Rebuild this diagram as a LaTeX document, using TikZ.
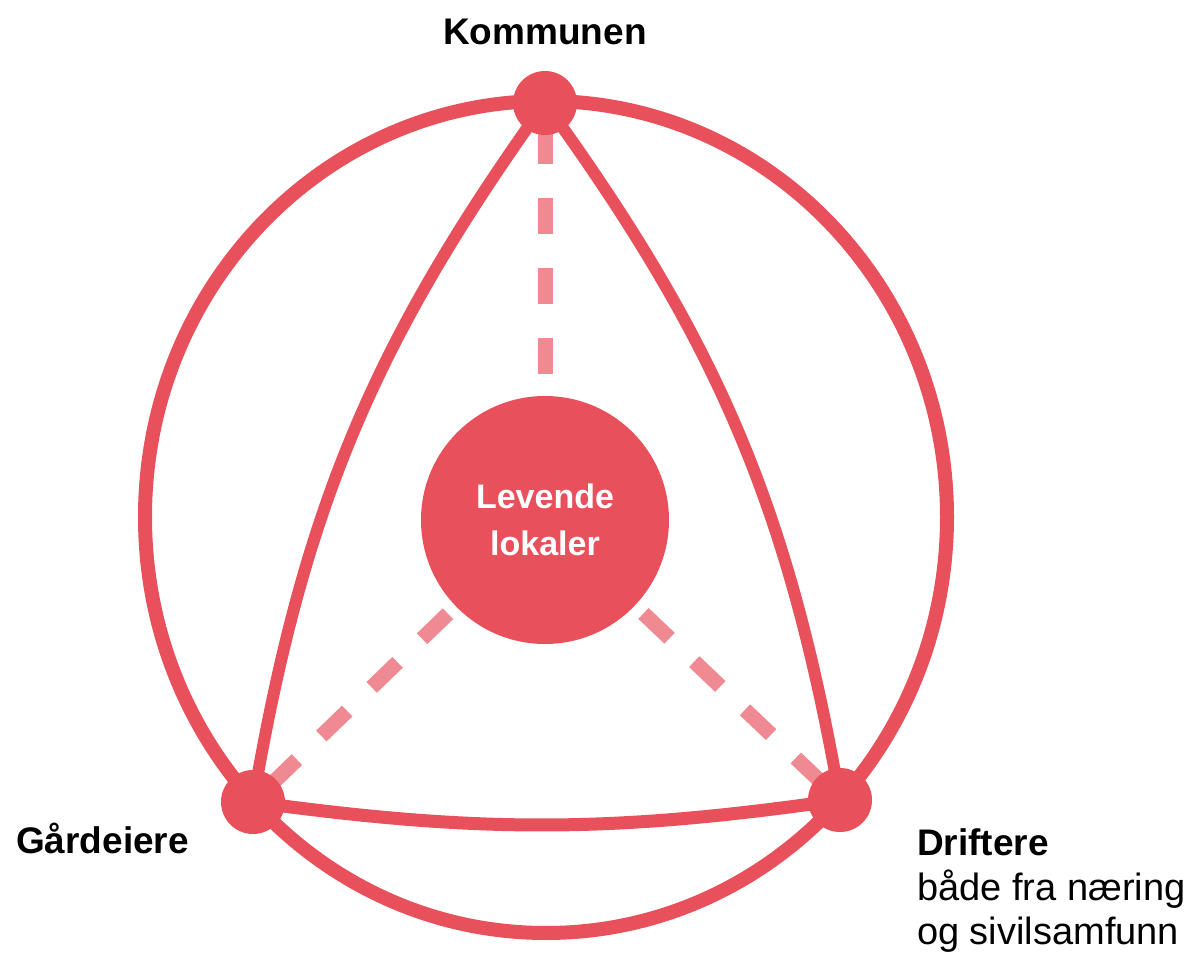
\documentclass[tikz,border=0pt]{standalone}
\usepackage{fontspec}
\setmainfont{Liberation Sans}
\usetikzlibrary{backgrounds}
\definecolor{mainred}{RGB}{232,80,92}
\definecolor{dashred}{RGB}{239,138,147}
\begin{document}
\begin{tikzpicture}[x=1pt,y=1pt,
  dot/.style={circle,fill=mainred,minimum size=64pt,inner sep=0pt},
  hub/.style={circle,fill=mainred,minimum size=248pt,inner sep=0pt,text=white,align=center,font=\fontsize{34}{47}\selectfont\bfseries},
  outerring/.style={draw=mainred,line width=14pt},
  arcline/.style={draw=mainred,line width=12pt},
  dashline/.style={draw=dashred,line width=15pt,dash pattern=on 36pt off 34pt,dash phase=45pt},
  lbl/.style={font=\fontsize{37}{44}\selectfont\bfseries,inner sep=0pt},
  sublbl/.style={font=\fontsize{38}{44}\selectfont,inner sep=0pt}]
\useasboundingbox (0,0) rectangle (1202,954);
\coordinate (O) at (546,437);
\node[dot] (K) at (545,851) {};
\node[dot] (G) at (253,152) {};
\node[dot] (D) at (840,154) {};
\node[hub] (L) at (545,434) {Levende\\lokaler};
\begin{scope}[on background layer]
  \draw[outerring] (O) ellipse [x radius=401pt, y radius=416pt];
  \draw[arcline] (K.center) to[bend right=13] (G.center);
  \draw[arcline] (K.center) to[bend left=13] (D.center);
  \draw[arcline,line width=13pt] (G.center) to[bend right=8] (D.center);
  \draw[dashline] (K.center) -- (L);
  \draw[dashline] (G.center) -- (L);
  \draw[dashline] (D.center) -- (L);
\end{scope}
\node[lbl,anchor=base] (kl) at (545,909) {Kommunen};
\node[lbl,anchor=base west] (gl) at (16,101) {Gårdeiere};
\node[lbl,anchor=base west] (dl) at (917,99) {Driftere};
\node[sublbl,anchor=base west] (dl2) at (917,54) {både fra næring};
\node[sublbl,anchor=base west] (dl3) at (917,10) {og sivilsamfunn};
\end{tikzpicture}
\end{document}
